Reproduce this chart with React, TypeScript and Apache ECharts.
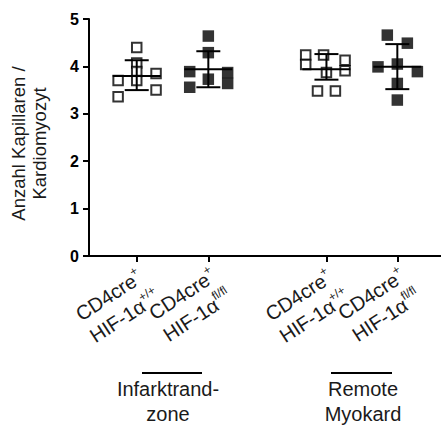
import React, { useEffect, useRef } from 'react';
import * as echarts from 'echarts';

// ---- data ----
const groupCenters = [1, 2, 3.65, 4.64];
const labelLine1 = ['CD4cre', 'CD4cre', 'CD4cre', 'CD4cre'];
const labelSup1 = ['+', '+', '+', '+'];
const labelLine2 = ['HIF-1α', 'HIF-1α', 'HIF-1α', 'HIF-1α'];
const labelSup2 = ['+/+', 'fl/fl', '+/+', 'fl/fl'];
const yTicks = [0, 1, 2, 3, 4, 5];

// individual values and horizontal jitter (in category units)
const g1Values = [4.4, 4.07, 3.89, 3.7, 3.7, 3.85, 3.5, 3.36];
const g1Jitter = [0, 0, 0, 0, -0.26, 0.27, 0.27, -0.26];
const g2Values = [4.64, 4.29, 3.89, 3.87, 3.64, 3.73, 3.56];
const g2Jitter = [0, 0, -0.26, 0.27, 0.27, 0, -0.26];
const g3Values = [4.24, 4.04, 4.24, 3.87, 4.13, 3.91, 3.48, 3.48];
const g3Jitter = [-0.29, -0.29, -0.04, 0, 0.26, 0.26, -0.125, 0.125];
const g4Values = [4.66, 4.49, 3.99, 4.05, 3.89, 3.64, 3.29];
const g4Jitter = [-0.14, 0.14, -0.27, 0, 0.28, 0, 0];

const means = [3.8, 3.94, 3.94, 3.99];
const sdLow = [3.5, 3.56, 3.72, 3.52];
const sdHigh = [4.13, 4.32, 4.26, 4.47];

const groupNames = ['Infarktrand-\nzone', 'Remote\nMyokard'];
const yAxisName = 'Anzahl Kapillaren /\nKardiomyozyt';

const FONT = '"Liberation Sans", Arial, Helvetica, sans-serif';
const TEXT = '#1a1a1a';

function pts(values: number[], jitter: number[], center: number) {
  return values.map((v, i) => [center + jitter[i], v]);
}

function labelFor(v: number) {
  let idx = 0;
  let best = Infinity;
  groupCenters.forEach((c, i) => {
    if (Math.abs(c - v) < best) { best = Math.abs(c - v); idx = i; }
  });
  return `{a|${labelLine1[idx]}}{s|${labelSup1[idx]}}\n{a|${labelLine2[idx]}}{s|${labelSup2[idx]}}`;
}

function makeXAxis(values: number[], showLine: boolean) {
  return {
    type: 'value',
    position: 'bottom',
    offset: 0,
    min: 1 / 3,
    max: 5.25,
    splitLine: { show: false },
    axisLine: { show: showLine, onZero: false, lineStyle: { color: '#000', width: 2 } },
    axisTick: { show: true, length: 6, lineStyle: { color: '#000', width: 2 }, customValues: values },
    axisLabel: {
      customValues: values,
      showMinLabel: true,
      showMaxLabel: true,
      hideOverlap: false,
      rotate: 33,
      margin: 6,
      align: 'right',
      verticalAlign: 'top',
      formatter: (v: number) => labelFor(v),
      rich: {
        a: { fontFamily: FONT, fontSize: 20, color: TEXT, lineHeight: 26, align: 'left', verticalAlign: 'middle' },
        s: { fontFamily: FONT, fontSize: 12, color: TEXT, lineHeight: 14, align: 'left', verticalAlign: 'top' },
      },
    },
  };
}

export default function App() {
  const ref = useRef<HTMLDivElement>(null);
  useEffect(() => {
    if (!ref.current) return;
    const chart = echarts.init(ref.current, null, { renderer: 'svg' });
    const openStyle = { color: '#fff', borderColor: '#000', borderWidth: 2 };
    const fillStyle = { color: '#000', borderColor: '#000', borderWidth: 0 };
    const groups = [
      { data: pts(g1Values, g1Jitter, groupCenters[0]), open: true },
      { data: pts(g2Values, g2Jitter, groupCenters[1]), open: false },
      { data: pts(g3Values, g3Jitter, groupCenters[2]), open: true },
      { data: pts(g4Values, g4Jitter, groupCenters[3]), open: false },
    ];
    const option: any = {
      animation: false,
      grid: { left: 87, right: 0, top: 19, bottom: 170, containLabel: false },
      xAxis: [
        makeXAxis([groupCenters[0], groupCenters[2]], true),
        makeXAxis([groupCenters[1], groupCenters[3]], false),
      ],
      yAxis: {
        type: 'value',
        min: 0,
        max: 5,
        interval: 1,
        splitLine: { show: false },
        axisLine: { show: true, lineStyle: { color: '#000', width: 2 } },
        axisTick: { show: true, length: 6, lineStyle: { color: '#000', width: 2 } },
        axisLabel: {
          margin: 10,
          fontFamily: FONT,
          fontSize: 16,
          fontWeight: 'bold',
          color: '#000',
          formatter: (v: number) => (yTicks.includes(v) ? String(v) : ''),
        },
        name: yAxisName,
        nameLocation: 'middle',
        nameGap: 39,
        nameTextStyle: { fontFamily: FONT, fontSize: 18.5, color: TEXT, lineHeight: 21, padding: [0, 12, 0, 0] },
      },
      series: [
        ...groups.map((g) => ({
          type: 'scatter',
          xAxisIndex: 0,
          symbol: 'rect',
          symbolSize: g.open ? 9.5 : 11.5,
          data: g.data,
          itemStyle: g.open ? openStyle : fillStyle,
          z: 2,
          silent: true,
        })),
        {
          type: 'custom',
          xAxisIndex: 0,
          z: 5,
          silent: true,
          data: groupCenters.map((c, i) => [c, means[i], sdLow[i], sdHigh[i]]),
          renderItem: (params: any, api: any) => {
            const x = api.value(0);
            const pm = api.coord([x, api.value(1)]);
            const pl = api.coord([x, api.value(2)]);
            const ph = api.coord([x, api.value(3)]);
            const style = { stroke: '#000', lineWidth: 2, fill: 'none' };
            return {
              type: 'group',
              children: [
                { type: 'line', shape: { x1: pm[0] - 24, y1: pm[1], x2: pm[0] + 24, y2: pm[1] }, style },
                { type: 'line', shape: { x1: pl[0], y1: pl[1], x2: ph[0], y2: ph[1] }, style },
                { type: 'line', shape: { x1: ph[0] - 12, y1: ph[1], x2: ph[0] + 12, y2: ph[1] }, style },
                { type: 'line', shape: { x1: pl[0] - 12, y1: pl[1], x2: pl[0] + 12, y2: pl[1] }, style },
              ],
            };
          },
        },
      ],
      graphic: [
        { type: 'line', shape: { x1: 142, y1: 373, x2: 202, y2: 373 }, style: { stroke: '#000', lineWidth: 2 } },
        { type: 'line', shape: { x1: 331, y1: 373, x2: 392, y2: 373 }, style: { stroke: '#000', lineWidth: 2 } },
        {
          type: 'text', x: 168, y: 376,
          style: { text: groupNames[0], fontFamily: FONT, fontSize: 20, lineHeight: 25, fill: TEXT, align: 'center', verticalAlign: 'top' },
        },
        {
          type: 'text', x: 363, y: 376,
          style: { text: groupNames[1], fontFamily: FONT, fontSize: 20, lineHeight: 25, fill: TEXT, align: 'center', verticalAlign: 'top' },
        },
      ],
    };
    chart.setOption(option);
    return () => chart.dispose();
  }, []);
  return <div ref={ref} style={{ width: 441, height: 426, position: 'absolute', left: 0, top: 0 }} />;
}
